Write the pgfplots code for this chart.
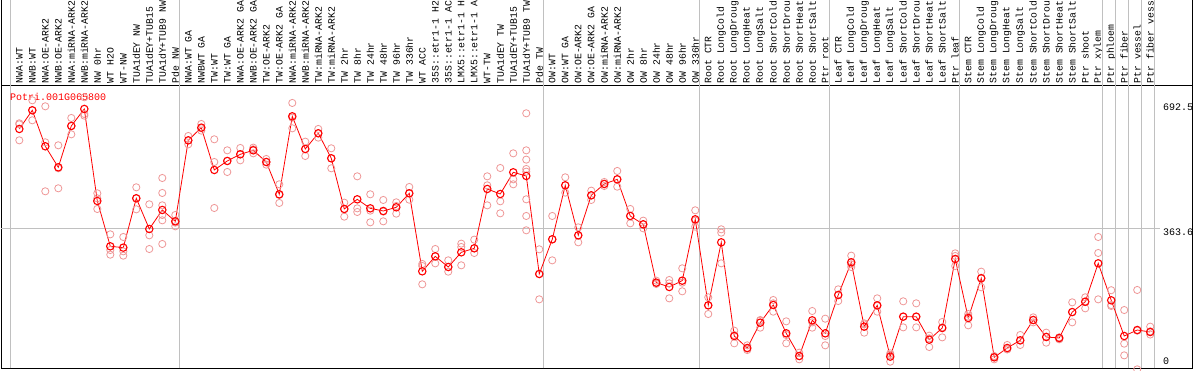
\documentclass[border=0pt]{standalone}
\usepackage{fontspec}
\setmainfont{Liberation Mono}
\usepackage{pgfplots}
\usepackage{pgfplotstable}
\pgfplotsset{compat=1.18}
\definecolor{rep}{RGB}{238,150,150}
\definecolor{sep}{RGB}{192,192,192}

\pgfplotstableread{
x y
0 624.9
1 674.0
2 579.3
3 524.0
4 632.8
5 677.5
6 435.4
7 316.2
8 312.7
9 442.5
10 361.8
11 411.8
12 381.9
13 595.0
14 628.4
15 517.0
16 540.7
17 558.2
18 568.7
19 538.0
20 453.0
21 658.2
22 572.2
23 613.5
24 547.7
25 414.4
26 439.8
27 416.1
28 409.1
29 418.8
30 455.6
31 250.4
32 289.8
33 261.8
34 300.4
35 310.9
36 467.0
37 453.8
38 510.9
39 501.2
40 243.4
41 334.6
42 476.6
43 345.1
44 450.3
45 480.2
46 492.4
47 396.0
48 374.0
49 220.6
50 209.2
51 225.8
52 387.2
53 160.9
54 326.7
55 80.2
56 48.7
57 115.3
58 161.8
59 87.3
60 27.6
61 121.5
62 87.3
63 188.1
64 274.1
65 104.8
66 160.9
67 25.9
68 131.1
69 131.1
70 70.6
71 101.3
72 282.8
73 127.6
74 232.0
75 24.1
76 48.7
77 68.9
78 122.3
79 77.6
80 75.0
81 143.2
82 170.2
83 271.4
84 174.1
85 80.2
86 96.0
87 90.8
}\means

\pgfplotstableread{
x y
0 639.8
0 637.1
0 595.0
1 700.3
1 674.0
1 647.7
2 684.5
2 589.8
2 460.9
3 581.9
3 521.4
3 468.8
4 653.8
4 632.8
4 610.8
5 708.2
5 664.3
5 659.9
6 455.6
6 442.4
6 414.4
7 347.7
7 306.5
7 294.2
8 340.7
8 303.0
8 291.6
9 471.4
9 442.5
9 413.5
10 426.7
10 345.1
10 309.1
11 495.9
11 456.5
11 424.0
11 398.6
11 384.6
11 322.3
12 398.6
12 378.4
12 368.8
13 606.4
13 595.0
13 584.5
14 638.0
14 626.6
14 620.5
15 597.7
15 538.0
15 417.0
16 568.7
16 540.7
16 511.7
17 574.9
17 558.2
17 542.4
18 575.8
18 571.4
18 560.8
19 545.9
19 538.0
19 531.0
20 479.3
20 451.2
20 430.2
21 693.3
21 654.7
21 626.6
22 591.5
22 572.2
22 553.8
23 624.9
23 613.5
23 602.1
24 574.0
24 547.7
24 521.4
25 431.0
25 414.4
25 394.2
26 500.3
26 416.1
26 406.5
27 453.0
27 410.0
27 379.3
28 438.1
28 407.4
28 381.9
29 431.9
29 422.3
29 402.1
30 472.3
30 455.6
30 438.9
31 269.7
31 264.4
31 216.2
32 309.1
32 289.8
32 271.4
33 279.3
33 261.8
33 249.5
34 323.2
34 314.4
34 266.2
35 333.7
35 310.9
35 298.6
36 500.3
36 476.6
36 424.0
37 522.2
37 434.6
37 403.0
38 560.8
38 492.4
38 479.3
39 666.1
39 568.7
39 544.2
39 519.6
39 512.6
39 439.8
39 396.0
39 358.3
40 308.3
40 243.4
40 176.7
41 396.0
41 334.6
41 279.3
42 497.7
42 476.6
42 457.4
43 366.1
43 345.1
43 326.7
44 462.6
44 450.3
44 438.1
45 485.4
45 480.2
45 474.9
46 514.4
46 492.4
46 473.1
47 414.4
47 396.0
47 376.7
48 383.7
48 374.0
48 363.5
49 225.8
49 218.8
49 217.1
50 227.6
50 218.8
50 179.3
51 258.3
51 220.6
51 197.8
52 410.9
52 383.7
52 367.9
53 182.0
53 160.9
53 138.1
54 360.9
54 352.1
54 271.4
55 94.3
55 82.9
55 61.0
56 55.7
56 46.9
56 43.4
57 122.3
57 120.6
57 102.2
58 175.0
58 166.2
58 144.3
59 118.8
59 82.9
59 61.0
60 36.4
60 27.6
60 18.9
61 146.0
61 116.2
61 102.2
62 125.8
62 80.2
62 55.7
63 203.0
63 189.0
63 172.3
64 291.6
64 268.8
64 261.8
65 113.6
65 110.9
65 89.0
66 179.3
66 159.2
66 144.3
67 34.6
67 30.3
67 12.7
68 171.5
68 131.1
68 103.0
69 166.2
69 131.1
69 103.0
70 81.1
70 74.1
70 51.3
71 117.1
71 103.0
71 76.7
72 297.7
72 290.7
72 264.4
73 138.1
73 131.1
73 108.3
74 249.5
74 233.7
74 208.3
75 27.6
75 25.9
75 18.9
76 56.6
76 45.2
76 45.2
77 82.9
77 68.0
77 56.6
78 129.3
78 122.3
78 116.2
79 89.0
79 78.5
79 62.7
80 76.7
80 73.2
80 71.5
81 168.8
81 143.2
81 116.2
82 182.0
82 171.5
82 153.0
83 340.7
83 298.6
83 176.7
84 200.7
84 161.8
84 159.2
85 148.6
85 60.1
85 29.3
86 201.3
86 94.3
86 -7.5
87 104.8
87 92.5
87 84.1
}\reps

\begin{document}
\begin{tikzpicture}
\useasboundingbox (-1pt,-1.7pt) rectangle (1193pt,368.3pt);
\clip (-1pt,-1.7pt) rectangle (1193pt,368.3pt);
\begin{axis}[
  at={(0pt,0pt)}, anchor=south west,
  scale only axis, width=1191pt, height=282.6pt,
  xmin=-1.408, xmax=90.21, ymin=-4.74, ymax=738.7,
  axis line style={black, line width=0.8pt},
  clip=false,
  font=\fontsize{10}{12}\selectfont,
  xtick={0,...,87},
  xticklabels={NWA:WT,NWB:WT,NWA:OE-ARK2,NWB:OE-ARK2,NWA:miRNA-ARK2,NWB:miRNA-ARK2,NW 0hr,WT H2O,WT-NW,TUA1dEY NW,TUA1dEY+TUB15,TUA1dY+TUB9 NW,Pde NW,
  NWA:WT GA,NWBWT GA,TW:WT,TW:WT GA,NWA:OE-ARK2 GA,NWB:OE-ARK2 GA,TW:OE-ARK2,TW:OE-ARK2 GA,NWA:miRNA-ARK2,NWB:miRNA-ARK2,TW:miRNA-ARK2,TW:miRNA-ARK2,TW 2hr,TW 8hr,TW 24hr,TW 48hr,TW 96hr,TW 336hr,WT ACC,35S::etr1-1 H2,35S::etr1-1 AC,LMX5::etr1-1 H,LMX5::etr1-1 A,WT-TW,TUA1dEY TW,TUA1dEY+TUB15,TUA1dY+TUB9 TW,Pde TW,
  OW:WT,OW:WT GA,OW:OE-ARK2,OW:OE-ARK2 GA,OW:miRNA-ARK2,OW:miRNA-ARK2,OW 2hr,OW 8hr,OW 24hr,OW 48hr,OW 96hr,OW 336hr,
  Root CTR,Root LongCold,Root LongDroug,Root LongHeat,Root LongSalt,Root ShortCold,Root ShortDrou,Root ShortHeat,Root ShortSalt,Ptr root,
  Leaf CTR,Leaf LongCold,Leaf LongDroug,Leaf LongHeat,Leaf LongSalt,Leaf ShortCold,Leaf ShortDrou,Leaf ShortHeat,Leaf ShortSalt,Ptr leaf,
  Stem CTR,Stem LongCold,Stem LongDroug,Stem LongHeat,Stem LongSalt,Stem ShortCold,Stem ShortDrou,Stem ShortHeat,Stem ShortSalt,Ptr shoot,Ptr xylem,
  Ptr phloem,Ptr fiber,Ptr vessel,Ptr fiber vess},
  xticklabel pos=upper,
  xticklabel shift=2.2pt,
  x tick label style={rotate=90, anchor=west, inner sep=0pt, font=\fontsize{9.8}{12}\selectfont},
  major tick length=0pt,
  ytick={363.6,692.5}, yticklabels={363.6,692.5},
  yticklabel pos=right,
  y tick label style={anchor=north west, inner sep=0pt, xshift=-29pt},
  extra y ticks={0}, extra y tick labels={0},
  extra y tick style={yticklabel style={anchor=south west, yshift=1.5pt}},
  /pgf/number format/assume math mode=true,
]
\pgfplotsinvokeforeach{-0.715,12.285,40.285,52.285,62.285,72.285,83.285,84.285,85.285,86.285,87.285}{
  \draw[sep, line width=0.8pt] (axis cs:#1,-4.74) -- (axis cs:#1,1000);
}
\draw[sep, line width=0.8pt] (axis cs:-1.408,363.6) -- (axis cs:87.75,363.6);
\draw[black, line width=0.8pt] (rel axis cs:0,1) -- (rel axis cs:0,1.4);
\draw[black, line width=0.8pt] (rel axis cs:1,1) -- (rel axis cs:1,1.4);
\node[anchor=north west, inner sep=0pt, text=red] at (axis cs:-0.715,719.5) {Potri.001G065800};
\addplot[only marks, mark=o, mark size=3.6pt, rep, mark options={line width=0.8pt}] table {\reps};
\addplot[red, line width=0.8pt, mark=o, mark size=3.7pt, mark options={line width=1.1pt}] table {\means};
\end{axis}
\end{tikzpicture}
\end{document}
